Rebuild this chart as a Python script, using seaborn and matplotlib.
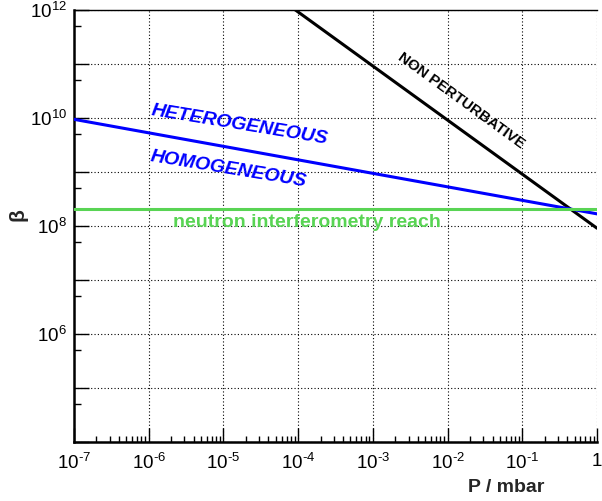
import numpy as np
import pandas as pd
import matplotlib
matplotlib.use("Agg")
import matplotlib.pyplot as plt
import matplotlib.ticker as mticker
import seaborn as sns

# ---- data ----
pressure_mbar = [1e-7, 1.0]
beta_gas = [9.3e9, 1.66e8]            # heterogeneous / homogeneous boundary (blue)
beta_nonpert = [9.0e14, 9.0e7]        # non-perturbative limit (black)
beta_neutron = [2.0e8, 2.0e8]         # neutron interferometry reach (green)

x_ticks = [1e-7, 1e-6, 1e-5, 1e-4, 1e-3, 1e-2, 1e-1, 1.0]
y_ticks = [1e4, 1e5, 1e6, 1e7, 1e8, 1e9, 1e10, 1e11, 1e12]
y_labelled = [1e6, 1e8, 1e10, 1e12]

sns.set_theme(style="white")
plt.rcParams["font.family"] = ["Liberation Sans", "DejaVu Sans"]
plt.rcParams["mathtext.fontset"] = "custom"
plt.rcParams["mathtext.rm"] = "Liberation Sans"
plt.rcParams["mathtext.it"] = "Liberation Sans:italic"
plt.rcParams["mathtext.bf"] = "Liberation Sans:bold"
plt.rcParams["mathtext.default"] = "regular"

fig = plt.figure(figsize=(6.02, 5.01), dpi=100)
ax = fig.add_axes([74 / 602, 1 - 442 / 501, 523 / 602, 432.5 / 501])
ax.set_facecolor("white")

df_gas = pd.DataFrame({"P": pressure_mbar, "beta": beta_gas})
df_np = pd.DataFrame({"P": pressure_mbar, "beta": beta_nonpert})
df_n = pd.DataFrame({"P": pressure_mbar, "beta": beta_neutron})

sns.lineplot(data=df_np, x="P", y="beta", ax=ax, color="black", linewidth=2.2, zorder=3)
sns.lineplot(data=df_gas, x="P", y="beta", ax=ax, color="#0000ff", linewidth=2.2, zorder=3)
sns.lineplot(data=df_n, x="P", y="beta", ax=ax, color="#59d454", linewidth=2.2, zorder=3)

ax.set_xscale("log")
ax.set_yscale("log")
ax.set_xlim(1e-7, 1.0)
ax.set_ylim(1e4, 1e12)

ax.xaxis.set_major_locator(mticker.FixedLocator(x_ticks))
ax.yaxis.set_major_locator(mticker.FixedLocator(y_ticks))
ax.xaxis.set_minor_locator(mticker.LogLocator(base=10, subs=np.arange(2, 10), numticks=20))
ax.yaxis.set_minor_locator(mticker.LogLocator(base=10, subs=[5.0], numticks=20))
ax.xaxis.set_minor_formatter(mticker.NullFormatter())
ax.yaxis.set_minor_formatter(mticker.NullFormatter())


def exp_label(e):
    if e < 0:
        return r"$10^{\text{-}%d}$" % (-e)
    return r"$10^{%d}$" % e


def xfmt(v, pos):
    e = int(round(np.log10(v)))
    if e == 0:
        return "1"
    return exp_label(e)


def yfmt(v, pos):
    e = int(round(np.log10(v)))
    if any(abs(v - t) / t < 1e-6 for t in y_labelled):
        return exp_label(e)
    return ""


ax.xaxis.set_major_formatter(mticker.FuncFormatter(xfmt))
ax.yaxis.set_major_formatter(mticker.FuncFormatter(yfmt))

ax.tick_params(axis="both", which="both", direction="in", colors="black",
               labelcolor="black", labelsize=13.5, top=False, right=False,
               bottom=True, left=True)
ax.tick_params(axis="x", which="major", length=10, width=1, pad=8)
ax.tick_params(axis="x", which="minor", length=4.5, width=1)
ax.tick_params(axis="y", which="major", length=11, width=1, pad=5)
ax.tick_params(axis="y", which="minor", length=5, width=1)

ax.grid(True, which="major", color="black", linestyle=(0, (1, 2)), linewidth=0.8)

for s in ["left", "bottom"]:
    ax.spines[s].set_linewidth(1.8)
    ax.spines[s].set_color("black")
ax.spines["top"].set_linewidth(1.0)
ax.spines["top"].set_color("black")
ax.spines["right"].set_visible(False)

ax.set_xlabel("P / mbar", fontsize=14, fontweight="bold", ha="right")
ax.xaxis.set_label_coords(0.90, -0.085)
ax.xaxis.label.set_va("top")
ax.set_ylabel("β", fontsize=15, fontweight="bold")
ax.yaxis.set_label_coords(-0.107, 0.525)
ax.yaxis.label.set_va("center")

ax.text(10 ** -4.79, 10 ** 9.865, "HETEROGENEOUS", color="#0000ff", fontsize=14,
        fontweight="bold", fontstyle="italic", rotation=-9.3,
        ha="center", va="center", rotation_mode="anchor", zorder=4)
ax.text(10 ** -4.94, 10 ** 9.05, "HOMOGENEOUS", color="#0000ff", fontsize=14,
        fontweight="bold", fontstyle="italic", rotation=-9.3,
        ha="center", va="center", rotation_mode="anchor", zorder=4)
ax.text(10 ** -3.88, 10 ** 7.985, "neutron interferometry reach", color="#59d454",
        fontsize=14, fontweight="bold", ha="center", va="baseline", zorder=4)
ax.text(10 ** -1.82, 10 ** 10.31, "NON PERTURBATIVE", color="black", fontsize=10.8,
        fontweight="bold", rotation=-36, ha="center", va="center",
        rotation_mode="anchor", zorder=4)

fig.savefig("out.png", dpi=100)
